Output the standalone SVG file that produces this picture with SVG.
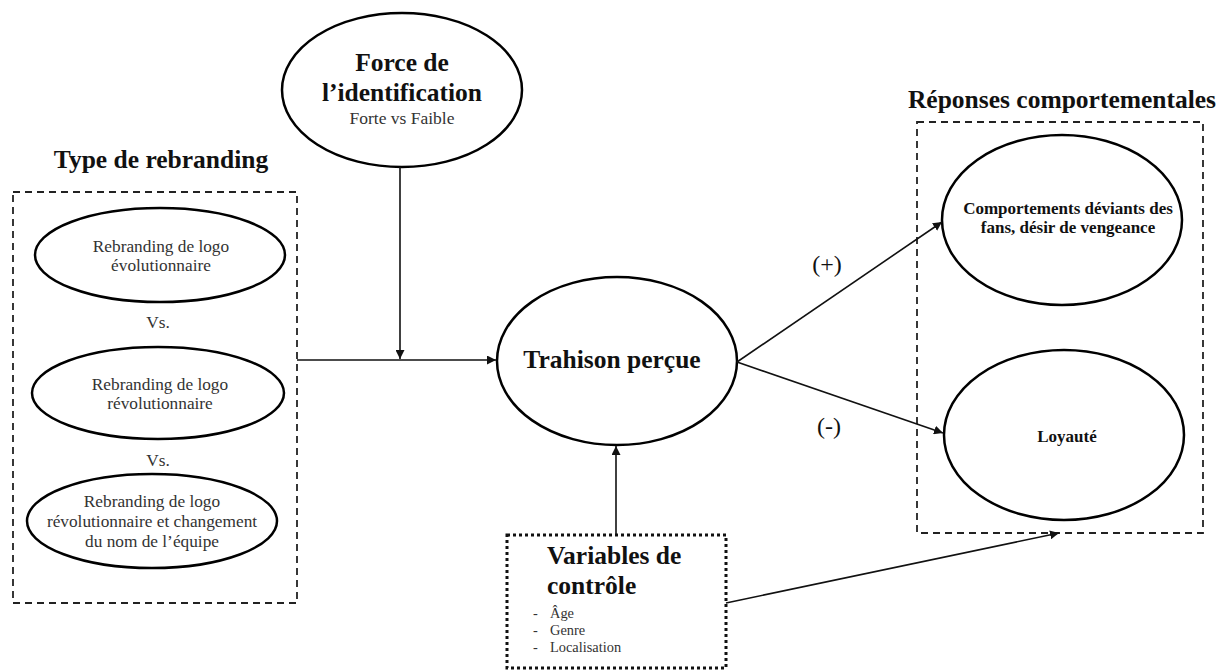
<svg xmlns="http://www.w3.org/2000/svg" width="1222" height="671" viewBox="0 0 1222 671">
  <style>
    .ell { fill: #fff; stroke: #000; stroke-width: 2.5; }
    .dash { fill: none; stroke: #222; stroke-width: 1.8; stroke-dasharray: 7 5; }
    .dot { fill: none; stroke: #111; stroke-width: 3; stroke-dasharray: 3 3; }
    .edge { fill: none; stroke: #111; stroke-width: 1.6; }
    text { font-family: "Liberation Serif", "Times New Roman", serif; fill: #111; text-anchor: middle; }
    .title { font-size: 25.5px; font-weight: bold; }
    .reg { font-size: 17.3px; fill: #333; }
    .small { font-size: 14.4px; fill: #333; }
    .sub { font-size: 17.5px; fill: #333; }
    .bold16 { font-size: 17px; font-weight: bold; }
    .big { font-size: 25.5px; font-weight: bold; }
    .lab { font-size: 24px; }
  </style>
  <defs>
    <marker id="arrow" viewBox="0 0 10 10" refX="10" refY="5" markerWidth="9" markerHeight="9" markerUnits="userSpaceOnUse" orient="auto">
      <path d="M0,0 L10,5 L0,10 z" fill="#111"/>
    </marker>
  </defs>
  <rect width="1222" height="671" fill="#fff"/>

  <!-- rebranding type group -->
  <g id="type-rebranding">
    <text class="title" x="161" y="168">Type de rebranding</text>
    <rect class="dash" x="13" y="192" width="284" height="411"/>
  </g>
  <g id="evolutionnaire">
    <ellipse class="ell" cx="160" cy="255" rx="125" ry="47"/>
    <text class="reg" x="161" y="252">Rebranding de logo</text>
    <text class="reg" x="161" y="271">évolutionnaire</text>
  </g>
  <text class="reg" x="158" y="328">Vs.</text>
  <g id="revolutionnaire">
    <ellipse class="ell" cx="158" cy="393" rx="126" ry="46"/>
    <text class="reg" x="160" y="390">Rebranding de logo</text>
    <text class="reg" x="160" y="409">révolutionnaire</text>
  </g>
  <text class="reg" x="158" y="466">Vs.</text>
  <g id="revolutionnaire-nom">
    <ellipse class="ell" cx="152" cy="521" rx="125" ry="47"/>
    <text class="reg" x="152" y="507">Rebranding de logo</text>
    <text class="reg" x="152" y="527">révolutionnaire et changement</text>
    <text class="reg" x="152" y="547">du nom de l’équipe</text>
  </g>

  <!-- moderator -->
  <g id="force-identification">
    <ellipse class="ell" cx="402" cy="90" rx="120" ry="77"/>
    <text class="title" x="402" y="71">Force de</text>
    <text class="title" x="402" y="101">l’identification</text>
    <text class="sub" x="402" y="124">Forte vs Faible</text>
  </g>

  <!-- mediator -->
  <g id="trahison">
    <ellipse class="ell" cx="617" cy="361" rx="120" ry="84"/>
    <text class="big" x="612" y="368">Trahison perçue</text>
  </g>

  <!-- outcomes -->
  <g id="reponses">
    <text class="title" x="1062" y="108">Réponses comportementales</text>
    <rect class="dash" x="917" y="122" width="286" height="411"/>
  </g>
  <g id="deviants">
    <ellipse class="ell" cx="1062" cy="220" rx="120" ry="85"/>
    <text class="bold16" x="1068" y="214">Comportements déviants des</text>
    <text class="bold16" x="1068" y="233">fans, désir de vengeance</text>
  </g>
  <g id="loyaute">
    <ellipse class="ell" cx="1064" cy="435" rx="120" ry="85"/>
    <text class="bold16" x="1067" y="442">Loyauté</text>
  </g>

  <!-- control variables -->
  <g id="variables-controle">
    <rect class="dot" x="507" y="535" width="219" height="133"/>
    <text class="big" x="547" y="564" style="text-anchor:start">Variables de</text>
    <text class="big" x="547" y="594" style="text-anchor:start">contrôle</text>
    <text class="small" x="533" y="618" style="text-anchor:start">-</text>
    <text class="small" x="550" y="618" style="text-anchor:start">Âge</text>
    <text class="small" x="533" y="635" style="text-anchor:start">-</text>
    <text class="small" x="550" y="635" style="text-anchor:start">Genre</text>
    <text class="small" x="533" y="652" style="text-anchor:start">-</text>
    <text class="small" x="550" y="652" style="text-anchor:start">Localisation</text>
  </g>

  <!-- connectors -->
  <g id="connectors">
    <line class="edge" x1="297" y1="360" x2="496" y2="360" marker-end="url(#arrow)"/>
    <line class="edge" x1="400" y1="167" x2="400" y2="359" marker-end="url(#arrow)"/>
    <line class="edge" x1="616" y1="535" x2="616" y2="446" marker-end="url(#arrow)"/>
    <line class="edge" x1="737" y1="362" x2="942" y2="222" marker-end="url(#arrow)"/>
    <line class="edge" x1="737" y1="362" x2="943" y2="433" marker-end="url(#arrow)"/>
    <line class="edge" x1="726" y1="603" x2="1059" y2="533" marker-end="url(#arrow)"/>
    <text class="lab" x="827" y="272">(+)</text>
    <text class="lab" x="829" y="434">(-)</text>
  </g>
</svg>
